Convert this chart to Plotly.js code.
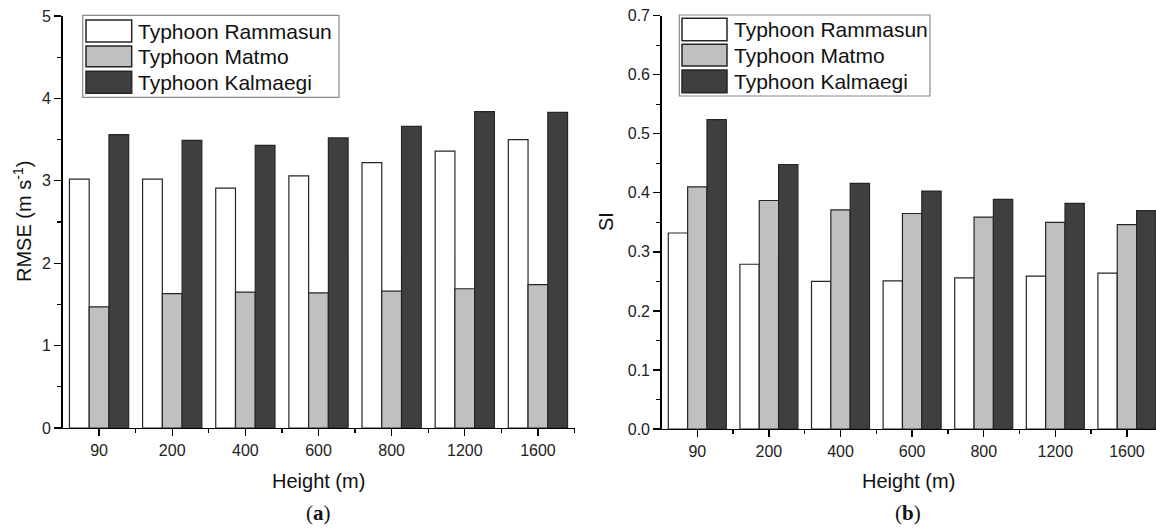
<!DOCTYPE html>
<html>
<head>
<meta charset="utf-8">
<script src="https://cdn.plot.ly/plotly-3.0.1.min.js"></script>
<style>html,body{margin:0;padding:0;background:#fff;}#chart{width:1156px;height:528px;}</style>
</head>
<body>
<div id="chart"></div>
<script>
// ---- Data ----
const heights = ["90", "200", "400", "600", "800", "1200", "1600"];
const seriesNames = ["Typhoon Rammasun", "Typhoon Matmo", "Typhoon Kalmaegi"];
// (a) RMSE (m s-1)
const rmseRammasun = [3.02, 3.02, 2.91, 3.06, 3.22, 3.36, 3.50];
const rmseMatmo    = [1.47, 1.63, 1.65, 1.64, 1.66, 1.69, 1.74];
const rmseKalmaegi = [3.56, 3.49, 3.43, 3.52, 3.66, 3.84, 3.83];
// (b) SI
const siRammasun = [0.332, 0.279, 0.250, 0.251, 0.256, 0.259, 0.264];
const siMatmo    = [0.410, 0.387, 0.371, 0.365, 0.359, 0.350, 0.346];
const siKalmaegi = [0.524, 0.448, 0.416, 0.403, 0.389, 0.382, 0.370];

// ---- Styling ----
const W = 1156, H = 528;
const fills = ["#ffffff", "#c0c0c0", "#3f3f3f"];
const edge = "#262626";
const FONT = "Liberation Sans, Arial, sans-serif";
const px = x => x / W;
const py = y => 1 - y / H;

const idx = heights.map((_, i) => i);
const bounds = heights.map((_, i) => i + 0.5);

function bar(vals, k, xa, ya) {
  return {
    type: "bar", x: idx, y: vals, name: seriesNames[k], showlegend: false,
    xaxis: xa, yaxis: ya,
    marker: { color: fills[k], line: { color: edge, width: 1.2 } },
    hoverinfo: "skip"
  };
}

const data = [
  bar(rmseRammasun, 0, "x", "y"), bar(rmseMatmo, 1, "x", "y"), bar(rmseKalmaegi, 2, "x", "y"),
  bar(siRammasun, 0, "x2", "y2"), bar(siMatmo, 1, "x2", "y2"), bar(siKalmaegi, 2, "x2", "y2")
];

function xax(domain, range, anchor) {
  return {
    domain: domain, range: range, anchor: anchor,
    tickmode: "array", tickvals: idx, ticktext: heights,
    ticks: "outside", ticklen: 7, tickwidth: 1.3, tickcolor: "#000",
    minor: { tickmode: "array", tickvals: bounds, ticks: "outside", ticklen: 4, tickwidth: 1.3, tickcolor: "#000" },
    showline: true, linecolor: "#000", linewidth: 1.3,
    showgrid: false, zeroline: false,
    tickfont: { family: FONT, size: 16, color: "#222" }
  };
}
function yax(domain, range, dtick, minorD, anchor, fmt) {
  return {
    domain: domain, range: range, anchor: anchor,
    tickmode: "linear", tick0: 0, dtick: dtick, tickformat: fmt,
    ticks: "outside", ticklen: 7, tickwidth: 1.3, tickcolor: "#000",
    minor: { tick0: 0, dtick: minorD, ticks: "outside", ticklen: 4, tickwidth: 1.3, tickcolor: "#000" },
    showline: true, linecolor: "#000", linewidth: 1.3,
    showgrid: false, zeroline: false,
    tickfont: { family: FONT, size: 16, color: "#222" }
  };
}

// legend drawn manually (large swatches like the original)
const shapes = [];
const annotations = [];
function legend(box, swX, rows, textX) {
  shapes.push({ type: "rect", xref: "paper", yref: "paper",
    x0: px(box[0]), x1: px(box[1]), y0: py(box[3]), y1: py(box[2]),
    line: { color: "#8a8a8a", width: 1.2 }, fillcolor: "rgba(0,0,0,0)" });
  rows.forEach((r, k) => {
    shapes.push({ type: "rect", xref: "paper", yref: "paper",
      x0: px(swX[0]), x1: px(swX[1]), y0: py(r[1]), y1: py(r[0]),
      line: { color: edge, width: 1.5 }, fillcolor: fills[k] });
    annotations.push({ xref: "paper", yref: "paper", x: px(textX), y: py((r[0] + r[1]) / 2),
      xanchor: "left", yanchor: "middle", showarrow: false, text: seriesNames[k],
      font: { family: FONT, size: 21, color: "#111" } });
  });
}
legend([82.7, 339, 15.3, 97.3], [86, 131.7], [[20, 42], [46, 66.7], [71.3, 93.3]], 136);
legend([679.3, 930, 15, 96], [682, 727], [[18.3, 40.7], [44.3, 66], [70, 92.7]], 732);

function txt(x, y, s, size, angle, fam) {
  annotations.push({ xref: "paper", yref: "paper", x: px(x), y: py(y),
    xanchor: "center", yanchor: "middle", showarrow: false, text: s, textangle: angle || 0,
    font: { family: fam || FONT, size: size, color: "#111" } });
}
txt(23, 222, "RMSE (m s<sup>-1</sup>)", 20, -90);
txt(606, 222, "SI", 20, -90);
txt(318.5, 481, "Height (m)", 20);
txt(908, 481, "Height (m)", 20);
txt(318.5, 513, "(<b>a</b>)", 21, 0, "Liberation Serif, serif");
txt(908, 513, "(<b>b</b>)", 21, 0, "Liberation Serif, serif");

const layout = {
  width: W, height: H,
  margin: { l: 0, r: 0, t: 0, b: 0 },
  paper_bgcolor: "#fff", plot_bgcolor: "#fff",
  barmode: "group", bargap: 0.19, bargroupgap: 0,
  showlegend: false,
  xaxis: xax([px(62.5), px(574.5)], [-0.5, 6.5], "y"),
  yaxis: yax([py(428), py(16)], [0, 5], 1, 0.5, "x", "d"),
  xaxis2: xax([px(661.5), 1], [-0.5, 6.406], "y2"),
  yaxis2: yax([py(429), py(15.7)], [0, 0.7], 0.1, 0.05, "x2", ".1f"),
  shapes: shapes,
  annotations: annotations
};

Plotly.newPlot("chart", data, layout, { staticPlot: true });
</script>
</body>
</html>
